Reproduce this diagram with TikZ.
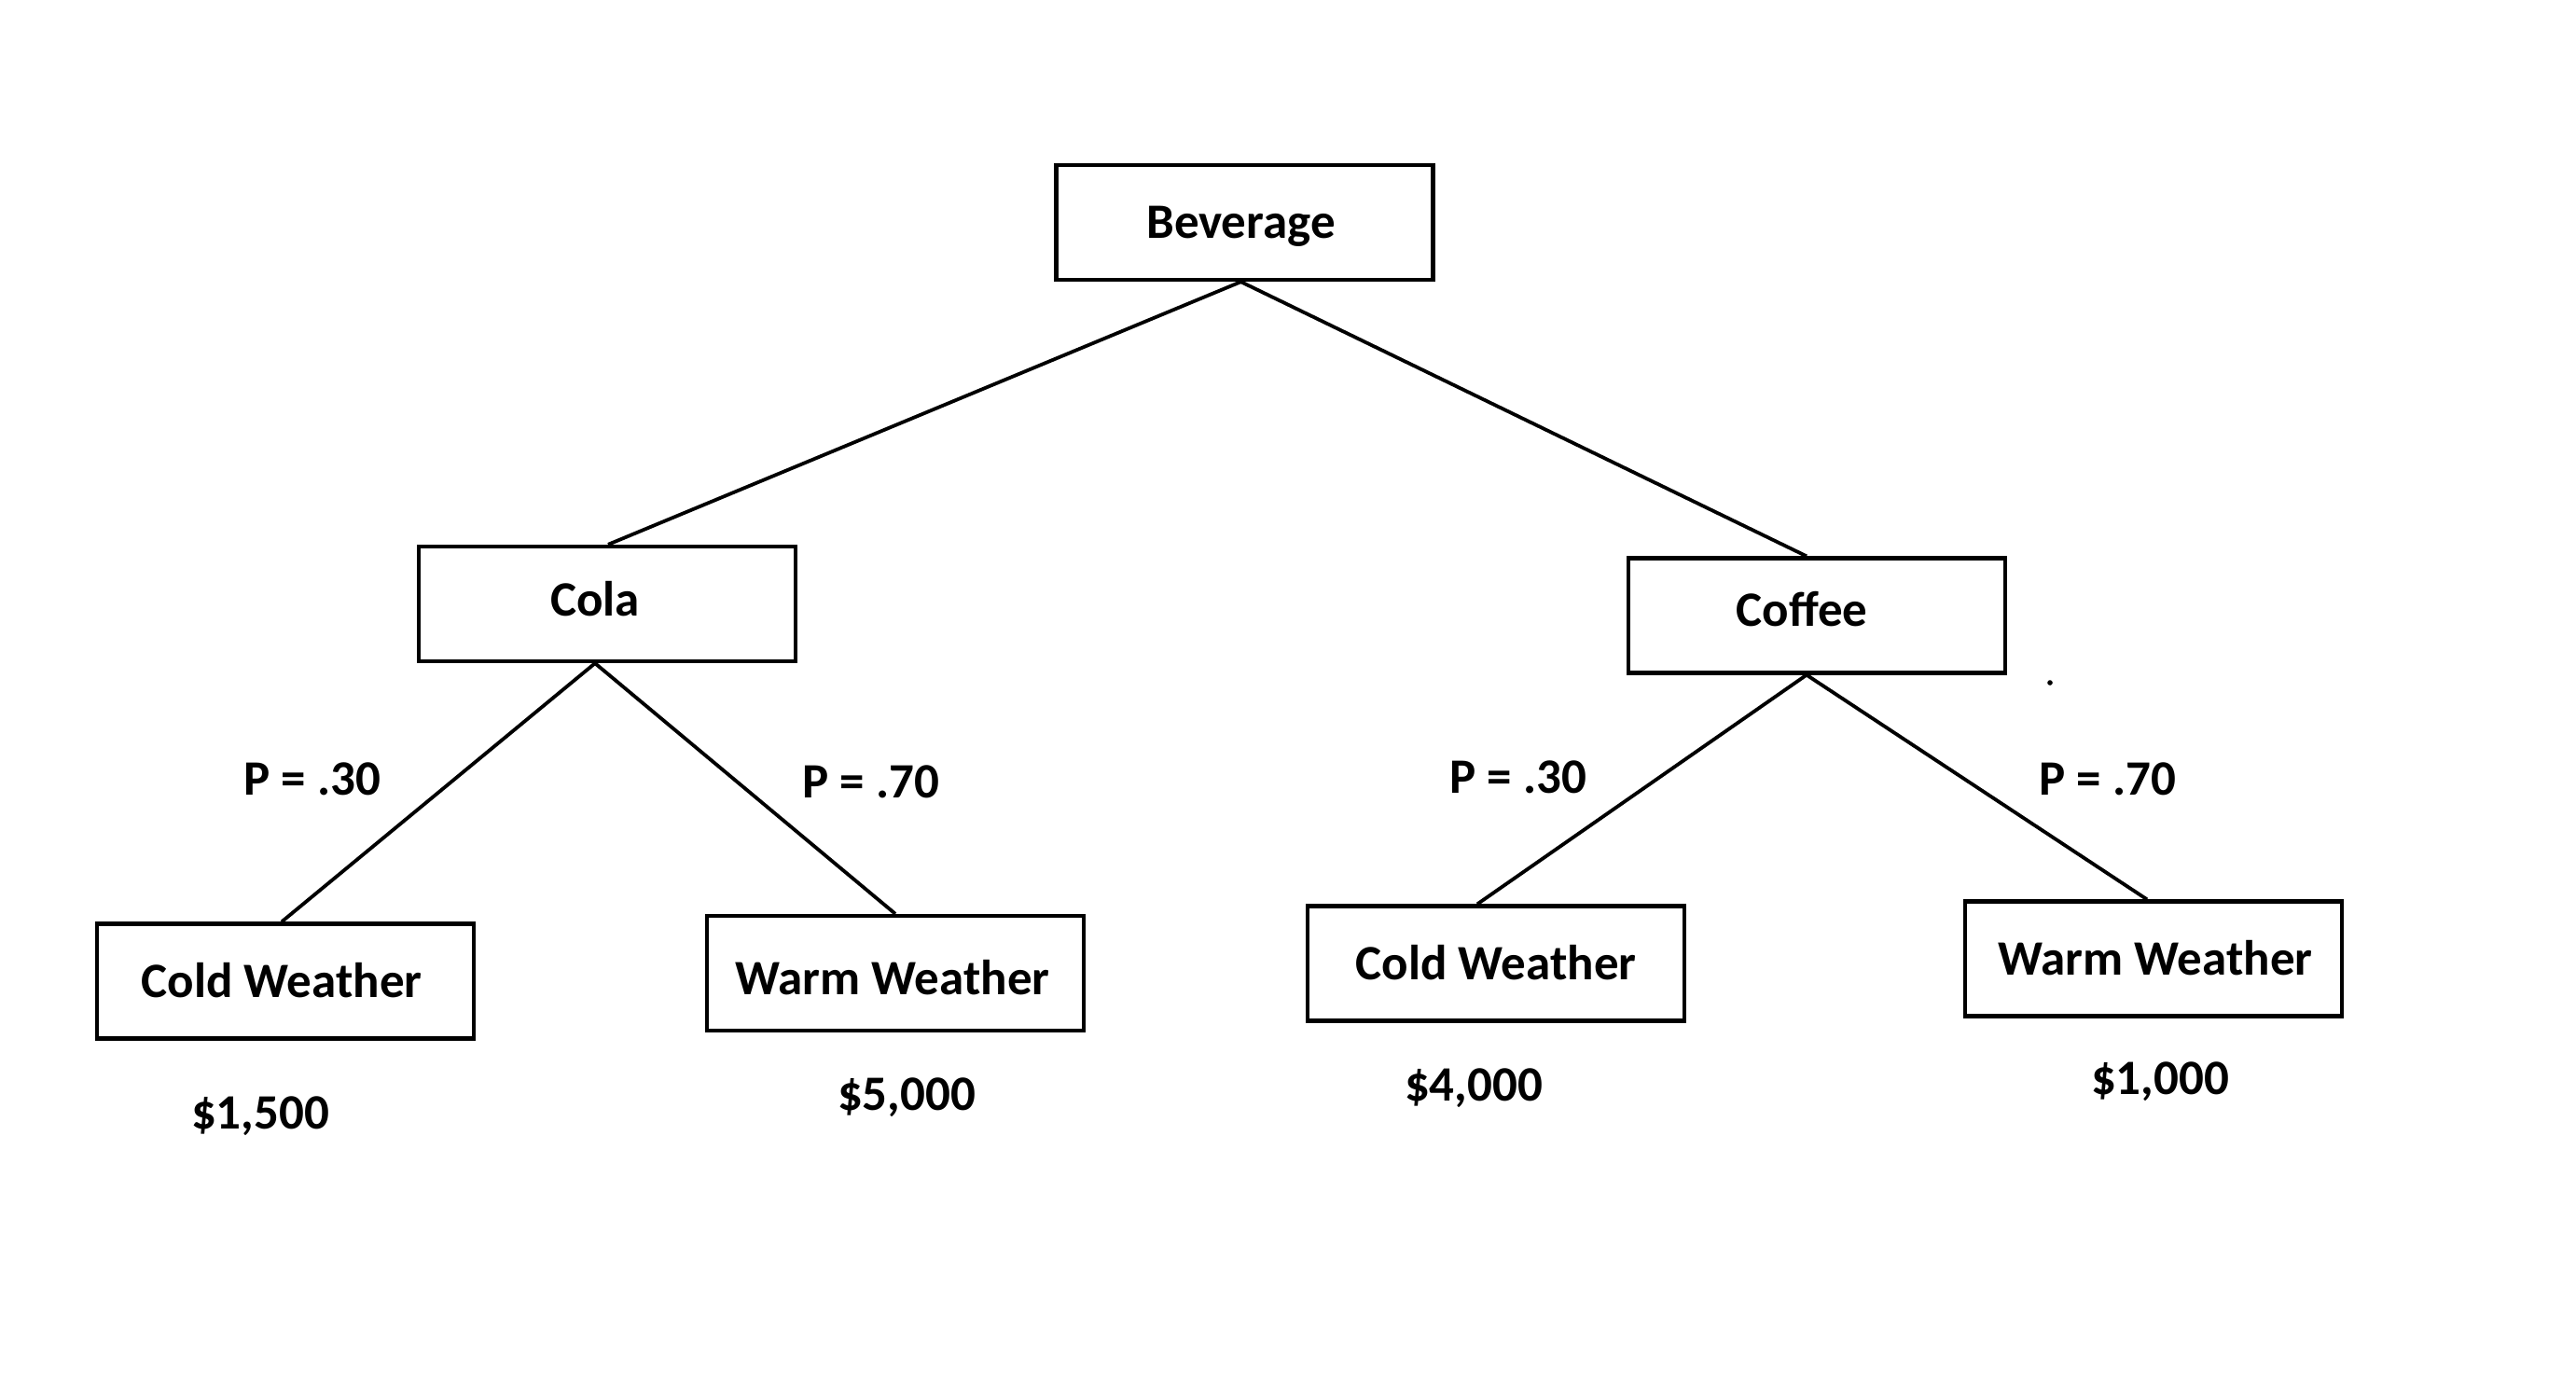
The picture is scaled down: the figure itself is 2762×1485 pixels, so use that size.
\documentclass[tikz,border=0pt]{standalone}
\usepackage{fontspec}
\setmainfont{Carlito}
\begin{document}
\begin{tikzpicture}[x=1pt,y=-1pt,
  every node/.style={font=\fontsize{53}{63}\selectfont\bfseries},
  box/.style={draw=black,line width=4.3pt,minimum width=404pt,minimum height=123pt,inner sep=0pt,text height=34pt,text depth=0pt},
  lbl/.style={anchor=base,inner sep=0pt},
  conn/.style={draw=black,line width=3.8pt}]
\useasboundingbox[fill=white] (0,0) rectangle (2762,1485);
\node[box] (bev) at (1334.5,238.5) {\hspace*{-8pt}Beverage};
\node[box,text height=26pt] (cola) at (651,647.5) {\hspace*{-26pt}Cola};
\node[box,text height=22pt] (coffee) at (1948,660) {\hspace*{-32pt}Coffee};
\node[box] (cold1) at (306,1052) {\hspace*{-8pt}Cold Weather};
\node[box,text height=46pt] (warm1) at (960,1043.5) {\hspace*{-6pt}Warm Weather};
\node[box] (cold2) at (1604,1033) {Cold Weather};
\node[box] (warm2) at (2309,1028) {\hspace*{4pt}Warm Weather};
\node[lbl] (p1) at (335,852) {P = .30};
\node[lbl] (p2) at (934,855) {P = .70};
\node[lbl] (p3) at (1628,850) {P = .30};
\node[lbl] (p4) at (2260,852) {P = .70};
\node[lbl] (v1) at (279,1210) {\$1,500};
\node[lbl] (v2) at (972,1190) {\$5,000};
\node[lbl] (v3) at (1580,1180) {\$4,000};
\node[lbl] (v4) at (2316,1173) {\$1,000};
\coordinate (dot) at (2198,732);
\fill (dot) circle (2.8pt);
\draw[conn] ([xshift=-4pt]bev.south) -- ([xshift=1pt]cola.north);
\draw[conn] ([xshift=-4pt]bev.south) -- ([xshift=-11pt]coffee.north);
\draw[conn] ([xshift=-13pt]cola.south) -- ([xshift=-4pt]cold1.north);
\draw[conn] ([xshift=-13pt]cola.south) -- ([xshift=0pt]warm1.north);
\draw[conn] ([xshift=-11pt]coffee.south) -- ([xshift=-20pt]cold2.north);
\draw[conn] ([xshift=-11pt]coffee.south) -- ([xshift=-7pt]warm2.north);
\end{tikzpicture}
\end{document}
